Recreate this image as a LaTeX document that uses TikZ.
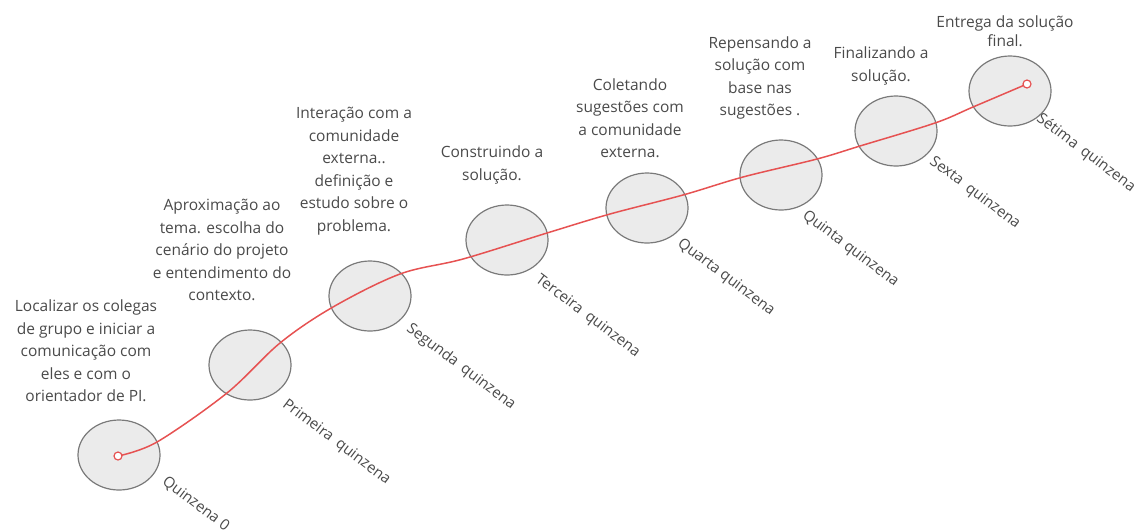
\documentclass[tikz,border=0pt]{standalone}
\usepackage{fontspec}
\setmainfont{Open Sans}
\usetikzlibrary{shapes.geometric}
\definecolor{txtgray}{HTML}{4A4A4A}
\definecolor{ringgray}{HTML}{7A7A7A}
\definecolor{ringfill}{HTML}{EBEBEB}
\definecolor{pathred}{HTML}{E65252}
\begin{document}
\begin{tikzpicture}[x=1pt,y=-1pt,
  stage/.style={ellipse, draw=ringgray, fill=ringfill, line width=1.2pt,
    minimum width=82pt, minimum height=70pt, inner sep=0pt},
  desc/.style={align=center, text=txtgray, inner sep=0pt,
    font=\fontsize{15.5}{22.5}\selectfont},
  tag/.style={rotate=-37, anchor=west, text=txtgray, inner sep=0pt,
    font=\fontsize{15}{17}\selectfont},
  dot/.style={circle, draw=pathred, fill=white, line width=1.2pt,
    minimum size=8pt, inner sep=0pt},
  redline/.style={draw=pathred, line width=1.5pt, line cap=round}]
\useasboundingbox (0,0) rectangle (1142,531);

% stage ellipses
\node[stage] (c0) at (119,455) {};
\node[stage] (c1) at (250,365) {};
\node[stage] (c2) at (370,296) {};
\node[stage] (c3) at (507,240) {};
\node[stage] (c4) at (647,208) {};
\node[stage] (c5) at (781,175) {};
\node[stage] (c6) at (896,131) {};
\node[stage] (c7) at (1010,91) {};

% waypoints of the red path
\coordinate (s) at (118,456);
\coordinate (w1) at (157,442);
\coordinate (w2) at (227,393);
\coordinate (w3) at (280,343);
\coordinate (w4) at (333,307);
\coordinate (w5) at (400,274);
\coordinate (w6) at (463,259);
\coordinate (w7) at (547,233);
\coordinate (w8) at (610,214);
\coordinate (w9) at (683,195);
\coordinate (w10) at (743,177);
\coordinate (w11) at (817,159);
\coordinate (w12) at (860,146);
\coordinate (w13) at (935,123);
\coordinate (w14) at (973,107);
\coordinate (e) at (1027,84);

\draw[redline] plot[smooth, tension=0.55] coordinates {(s) (w1) (w2) (w3) (w4) (w5) (w6) (w7) (w8) (w9) (w10) (w11) (w12) (w13) (w14) (e)};
\node[dot] (sd) at (s) {};
\node[dot] (ed) at (e) {};

% descriptions
\node[desc] (t0) at (86,351) {Localizar os colegas\\de grupo e iniciar a\\comunicação com\\eles e com o\\orientador de PI.};
\node[desc] (t1) at (222,250) {Aproximação ao\\tema. escolha do\\cenário do projeto\\e entendimento do\\contexto.};
\node[desc] (t2) at (354,171) {Interação com a\\comunidade\\externa..\\definição e\\estudo sobre o\\problema.};
\node[desc] (t3) at (492,165) {Construindo a\\solução.};
\node[desc] (t4) at (630,118) {Coletando\\sugestões com\\a comunidade\\externa.};
\node[desc] (t5) at (760,78) {Repensando a\\solução com\\base nas\\sugestões .};
\node[desc] (t6) at (881,66) {Finalizando a\\solução.};
\node[desc, font=\fontsize{15.5}{19}\selectfont] (t7) at (1005,31) {Entrega da solução\\final.};

% rotated stage names
\node[tag] (l0) at (164,480) {Quinzena 0};
\node[tag] (l1) at (284,403) {Primeira\hspace{3pt} quinzena};
\node[tag] (l2) at (408,327) {Segunda\hspace{3pt} quinzena};
\node[tag] (l3) at (537,278) {Terceira\hspace{3pt} quinzena};
\node[tag] (l4) at (679,242) {Quarta quinzena};
\node[tag] (l5) at (804,214) {Quinta quinzena};
\node[tag] (l6) at (931,160) {Sexta\hspace{3pt} quinzena};
\node[tag] (l7) at (1038,117) {Sétima\hspace{3pt} quinzena};
\end{tikzpicture}
\end{document}
